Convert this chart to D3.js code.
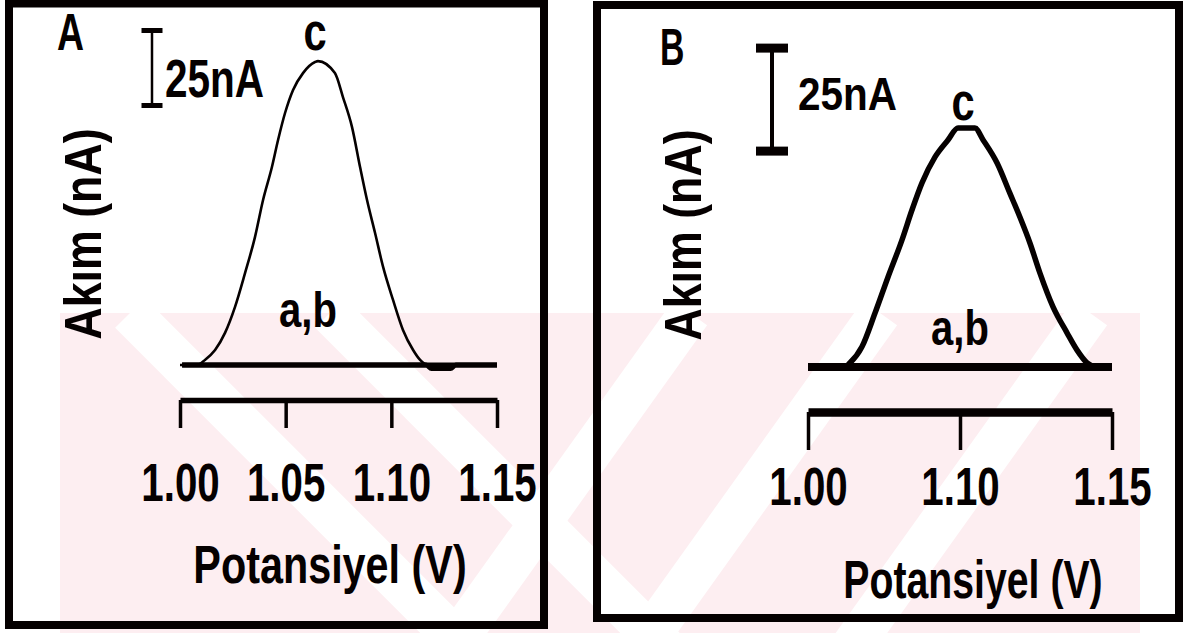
<!DOCTYPE html>
<html>
<head>
<meta charset="utf-8">
<script src="https://cdn.jsdelivr.net/npm/d3@7"></script>
<style>
  html, body { margin: 0; padding: 0; background: #fff; }
  svg { display: block; }
</style>
</head>
<body>
<svg id="chart" width="1190" height="633"></svg>
<script>
// ---- Panel A: potential (V) and current (nA) for traces a, b, c ----
const potA_c = [1.000, 1.008, 1.0118, 1.0166, 1.0213, 1.0260, 1.0308, 1.0355, 1.0393, 1.0435, 1.0464,
                1.0497, 1.0535, 1.0582, 1.0639, 1.0653, 1.0733, 1.0771, 1.0814, 1.0852, 1.0885, 1.0923,
                1.0961, 1.1008, 1.1055, 1.1103, 1.1136, 1.1174, 1.150];
const curA_c = [0, 0, 1.7, 5, 10.7, 19.3, 30.7, 42.7, 55, 66, 75,
                84, 91.7, 97.3, 101, 101.3, 97.3, 89.3, 79.3, 66, 55, 44,
                32.7, 21.7, 11.7, 5, 1.7, 0, 0];
const potA_a = [1.001, 1.150];
const curA_a = [0, 0];
const potA_b = [1.001, 1.1165, 1.119, 1.128, 1.1305, 1.150];
const curA_b = [0, 0, -1.2, -1.2, 0, 0];
const ticksA = [1.00, 1.05, 1.10, 1.15];
const tickLabelsA = ["1.00", "1.05", "1.10", "1.15"];

// ---- Panel B ----
const potB_c = [1.000, 1.024, 1.0276, 1.0355, 1.0441, 1.0526, 1.0618, 1.0684, 1.0750, 1.0836, 1.0921,
                1.0987, 1.1049, 1.1076, 1.1122, 1.1164, 1.1197, 1.1230, 1.1263, 1.1306, 1.1352,
                1.1385, 1.1418, 1.145, 1.150];
const curB_c = [0, 0, 1.0, 4.9, 13.1, 21.8, 30.8, 38.1, 44.7, 51.0, 55.1,
                58.0, 58.0, 55.1, 49.5, 42.2, 36.4, 30.1, 22.8, 14.6, 8.3,
                4.1, 1.0, 0, 0];
const potB_ab = [1.000, 1.150];
const curB_ab = [0, 0];
const ticksB = [1.00, 1.10, 1.15];
const tickLabelsB = ["1.00", "1.10", "1.15"];

// Current represented by the scale bar
const scaleBarNA = 25;

const FONT = "'Liberation Sans', Arial, Helvetica, sans-serif";
const INK = "#050000";

const svg = d3.select("#chart");

// ---- faint background emblem in the lower half ----
const bg = svg.append("g");
bg.append("clipPath").attr("id", "wm-clip")
  .append("rect").attr("x", 60).attr("y", 313).attr("width", 1080).attr("height", 320);
const wm = bg.append("g").attr("clip-path", "url(#wm-clip)");
wm.append("rect").attr("x", 60).attr("y", 313).attr("width", 1080).attr("height", 320)
  .attr("fill", "#fdeef1");
const stripesDown = [130, 330];
const stripesUp = [690, 880, 1090];
wm.selectAll("line.sd").data(stripesDown).join("line")
  .attr("x1", d => d).attr("y1", 313).attr("x2", d => d + 420).attr("y2", 733)
  .attr("stroke", "#fff").attr("stroke-width", 42);
wm.selectAll("line.su").data(stripesUp).join("line")
  .attr("x1", d => d).attr("y1", 313).attr("x2", d => d - 300).attr("y2", 733)
  .attr("stroke", "#fff").attr("stroke-width", 42);

function addText(g, str, x, y, size, sx, anchor, extra) {
  return g.append("text")
    .attr("transform", `translate(${x},${y})${extra || ""} scale(${sx},1)`)
    .attr("text-anchor", anchor || "start")
    .attr("font-family", FONT)
    .attr("font-weight", "bold")
    .attr("font-size", size)
    .attr("fill", INK)
    .text(str);
}

function drawPanel(cfg) {
  const g = svg.append("g");

  // frame
  g.append("rect")
    .attr("x", cfg.frame[0]).attr("y", cfg.frame[1])
    .attr("width", cfg.frame[2]).attr("height", cfg.frame[3])
    .attr("fill", "none").attr("stroke", INK).attr("stroke-width", 8);

  const x = d3.scaleLinear().domain(cfg.xDomain).range(cfg.xRange);
  const y = d3.scaleLinear().domain([0, 100]).range([cfg.y0, cfg.y0 - 100 * cfg.pxPerNA]);

  const line = d3.line()
    .x(d => x(d[0]))
    .y(d => y(d[1]))
    .curve(d3.curveMonotoneX);

  // flat traces (a, b) then the peak trace (c)
  cfg.flat.forEach(tr => {
    g.append("path")
      .datum(d3.zip(tr[0], tr[1]))
      .attr("d", line)
      .attr("fill", "none").attr("stroke", INK)
      .attr("stroke-width", cfg.flatW).attr("stroke-linejoin", "round");
  });
  g.append("path")
    .datum(d3.zip(cfg.peak[0], cfg.peak[1]))
    .attr("d", line)
    .attr("fill", "none").attr("stroke", INK)
    .attr("stroke-width", cfg.peakW).attr("stroke-linejoin", "round");

  // potential axis
  const axis = d3.axisBottom(x)
    .tickValues(cfg.ticks)
    .tickFormat((d, i) => cfg.tickLabels[i])
    .tickSizeInner(cfg.tickLen)
    .tickSizeOuter(0)
    .tickPadding(cfg.tickPad);
  const ag = g.append("g").attr("transform", `translate(0,${cfg.axisY})`).call(axis);
  ag.select(".domain").attr("stroke", INK).attr("stroke-width", cfg.axisW);
  ag.selectAll(".tick line").attr("stroke", INK).attr("stroke-width", 3.5);
  ag.selectAll(".tick text")
    .attr("font-family", FONT).attr("font-weight", "bold")
    .attr("font-size", 53).attr("fill", INK)
    .attr("transform", `scale(${cfg.textSX},1)`);

  // scale bar
  const sb = g.append("g");
  const yTop = y(cfg.barFrom + scaleBarNA), yBot = y(cfg.barFrom);
  sb.append("line").attr("x1", cfg.barX).attr("x2", cfg.barX).attr("y1", yTop).attr("y2", yBot)
    .attr("stroke", INK).attr("stroke-width", cfg.barW);
  [yTop, yBot].forEach(v => {
    sb.append("line")
      .attr("x1", cfg.barX - cfg.serif / 2).attr("x2", cfg.barX + cfg.serif / 2)
      .attr("y1", v).attr("y2", v)
      .attr("stroke", INK).attr("stroke-width", cfg.serifW);
  });
  addText(g, scaleBarNA + "nA", cfg.barLabel[0], cfg.barLabel[1], cfg.barLabel[2], cfg.barLabel[3]);

  // panel letter, trace labels, axis titles
  addText(g, cfg.letter, cfg.letterPos[0], cfg.letterPos[1], 52, cfg.letterPos[2]);
  addText(g, "c", cfg.cPos[0], cfg.cPos[1], 52, 0.8, "middle");
  addText(g, "a,b", cfg.abPos[0], cfg.abPos[1], 50, 0.8, "middle");
  addText(g, "Potansiyel (V)", cfg.xTitle[0], cfg.xTitle[1], 53, cfg.xTitle[2], "middle");
  addText(g, "Akım (nA)", cfg.yTitle[0], cfg.yTitle[1], 52, 0.86, "middle", " rotate(-90)");
}

drawPanel({
  frame: [9, 3.5, 535, 621.5],
  xDomain: [1.00, 1.15], xRange: [180, 497],
  y0: 365, pxPerNA: 3,
  flat: [[potA_a, curA_a], [potA_b, curA_b]], flatW: 5,
  peak: [potA_c, curA_c], peakW: 2.6,
  ticks: ticksA, tickLabels: tickLabelsA,
  axisY: 400, axisW: 5.5, tickLen: 28, tickPad: 35, textSX: 0.76,
  barFrom: 86.5, barX: 152, barW: 2.5, serif: 21, serifW: 5,
  barLabel: [165, 97, 54, 0.75],
  letter: "A", letterPos: [57, 50, 0.72],
  cPos: [315, 50], abPos: [308, 327],
  xTitle: [330, 583, 0.78],
  yTitle: [101, 234]
});

drawPanel({
  frame: [597, 5, 582, 613],
  xDomain: [1.00, 1.10, 1.15], xRange: [808, 960, 1112],
  y0: 367, pxPerNA: 4.12,
  flat: [[potB_ab, curB_ab]], flatW: 8,
  peak: [potB_c, curB_c], peakW: 5.5,
  ticks: ticksB, tickLabels: tickLabelsB,
  axisY: 412, axisW: 8.5, tickLen: 38, tickPad: 17, textSX: 0.76,
  barFrom: 52.4, barX: 772, barW: 4, serif: 32, serifW: 9,
  barLabel: [798, 110, 46, 0.88],
  letter: "B", letterPos: [660, 65, 0.65],
  cPos: [963, 120], abPos: [960, 345],
  xTitle: [973, 598, 0.74],
  yTitle: [701, 235]
});
</script>
</body>
</html>
